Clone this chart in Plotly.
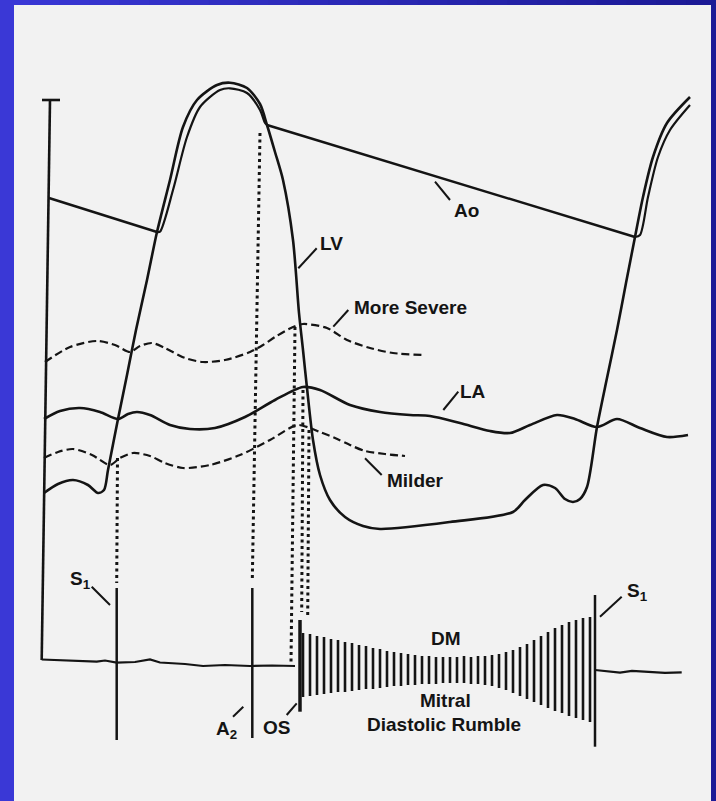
import plotly.graph_objects as go

# ---------------- data (in drawing units) ----------------
# Left ventricular pressure (single trace, through one cycle)
lv_x = [44, 58, 73, 88, 98, 104, 108, 118, 127, 136, 147, 157, 170, 183, 197, 217, 230, 247, 260, 267,
        275, 283, 293, 299, 303, 307, 313, 320, 330, 345, 363, 380, 450, 513, 525, 543, 555, 565, 573,
        580, 587, 597, 607, 617, 626, 635, 643, 653, 667, 690]
lv_y = [493, 484, 480, 485, 493, 490, 470, 419, 375, 330, 280, 232, 180, 127, 100, 85, 82.7, 88, 104, 125,
        152, 180, 240, 313, 350, 388, 440, 475, 500, 517, 526, 529, 522, 512, 500, 485, 488, 499, 502,
        499, 487, 427, 378, 330, 283, 237, 197, 157, 123, 97]

# Aortic pressure: diastolic runoff segments and ejection overlay (inner line)
ao_left_x = [49, 157]
ao_left_y = [198, 232]
ao_inner_x = [157, 160, 173, 187, 200, 220, 230, 247, 260, 265, 267]
ao_inner_y = [232, 231.7, 190, 137, 107, 90, 88.3, 93, 110, 123, 125]
ao_run_x = [267, 635]
ao_run_y = [125, 237]
ao_right_x = [635, 640, 648, 658, 670, 690]
ao_right_y = [237, 235, 197, 157, 130, 105]

# Left atrial pressure
la_x = [44, 60, 80, 100, 118, 128, 137, 150, 170, 190, 215, 245, 275, 303, 320, 350, 380, 410, 430,
        460, 490, 510, 530, 557, 575, 597, 617, 640, 667, 688]
la_y = [419, 411, 408, 412, 419, 414, 412, 415, 425, 429, 428, 417, 400, 387, 390, 405, 412, 415, 416,
        423, 431, 433, 425, 415, 419, 427, 419, 428, 437, 435]

# LA pressure, more severe stenosis (dashed)
sev_x = [45, 70, 97, 115, 130, 140, 152, 165, 185, 203, 225, 250, 263, 275, 293, 303, 327, 347, 370, 393, 423]
sev_y = [362, 347, 341, 345, 352, 346, 343, 348, 358, 362, 360, 352, 345, 337, 327, 324, 328, 340, 348, 353, 355]

# LA pressure, milder stenosis (dashed)
mild_x = [44, 58, 73, 92, 110, 120, 133, 150, 165, 183, 210, 240, 270, 297, 310, 320, 335, 350, 365, 385, 405]
mild_y = [458, 452, 449, 455, 465, 458, 453, 456, 463, 468, 465, 455, 440, 425, 428, 432, 438, 445, 451, 454, 456]

# Axes of the tracing
axis_x = [50, 41.7]
axis_y = [100, 660]
tbar_x = [42, 60]
tbar_y = [100, 100]

# Phonocardiogram baseline (left and right of the murmur)
base_l_x = [41.7, 70, 96.7, 105, 116.7, 135, 150, 160, 185, 203, 225, 250, 272, 295]
base_l_y = [659.5, 661, 661.7, 660.5, 662.7, 662, 659.5, 662.5, 664, 666, 665, 666, 665.5, 666]
base_r_x = [595, 608, 620, 632, 650, 665, 681.7]
base_r_y = [670, 671.5, 672.7, 670.8, 671.7, 672.8, 672.3]

# Heart sounds (solid markers): x, top, bottom
snd_x = [116.7, 252.3, 300, 595]
snd_top = [588, 588, 620, 595]
snd_bot = [740, 738, 711.7, 746.7]
snd_w = [2.5, 2.5, 3.5, 2.5]

# Dotted timing lines: x0, y0, x1, y1
dot_x0 = [117.5, 260, 295, 303, 309]
dot_y0 = [458, 133, 327, 390, 430]
dot_x1 = [116.7, 252.3, 291, 301.7, 307.7]
dot_y1 = [583, 580, 663, 612, 615]

# Diastolic murmur (rumble) vibrations
murmur_x = [303, 310, 317, 324, 331, 338, 345, 352, 359, 366, 373, 380, 387, 394, 401, 408, 415, 422,
            429, 436, 443, 450, 457, 464, 471, 478, 485, 492, 499, 506, 513, 520, 527, 534, 541, 548,
            555, 562, 569, 576, 583, 590]
murmur_top = [633, 634, 636, 637, 639, 640, 642, 643, 645, 646, 648, 649, 651, 652, 653, 654, 655, 656,
              656, 657, 657, 657, 657, 656, 657, 656, 656, 655, 654, 652, 650, 647, 644, 640, 636, 632,
              628, 625, 622, 620, 618, 617]
murmur_bot = [697, 696, 695, 694, 693, 692, 692, 691, 690, 689, 689, 688, 687, 686, 686, 685, 685, 684,
              684, 684, 683, 683, 683, 683, 684, 684, 685, 686, 688, 690, 693, 696, 699, 702, 705, 708,
              711, 713, 716, 718, 720, 722]

# Labels: text, x, y, leader line (x0, y0, x1, y1)
lab_text = ["Ao", "LV", "More Severe", "LA", "Milder", "DM", "Mitral", "Diastolic Rumble",
            "S<sub>1</sub>", "A<sub>2</sub>", "OS", "S<sub>1</sub>"]
lab_x = [466, 331.7, 351.7, 473, 415, 446, 445, 444, 80, 226, 276.7, 637]
lab_y = [210, 243.7, 307, 391.7, 480, 638, 700.7, 724, 580, 730, 727.5, 592]
lab_anchor = ["center", "center", "left", "center", "center", "center", "center", "center",
              "center", "center", "center", "center"]
lead_x0 = [435, 298.3, 333.3, 443.3, 365, 91.7, 233, 286.7, 600]
lead_y0 = [181.7, 268.3, 326.7, 410, 458.3, 586.7, 716.7, 715, 616.7]
lead_x1 = [450, 316.7, 348.3, 458.3, 381.7, 110, 243.3, 296.7, 621.7]
lead_y1 = [200, 248.3, 310, 391.7, 475, 605, 706.7, 703.3, 596.7]

INK = "#141414"

fig = go.Figure()


def add_line(xs, ys, width=2.6, dash="solid", shape="spline"):
    fig.add_trace(go.Scatter(x=xs, y=ys, mode="lines", hoverinfo="skip",
                             line=dict(color=INK, width=width, dash=dash, shape=shape,
                                       smoothing=0.8)))


def segments(x0, y0, x1, y1):
    xs, ys = [], []
    for a, b, c, d in zip(x0, y0, x1, y1):
        xs += [a, c, None]
        ys += [b, d, None]
    return xs, ys


# axes of tracing
add_line(axis_x, axis_y, 2.6, shape="linear")
add_line(tbar_x, tbar_y, 2.6, shape="linear")
# pressure curves
add_line(ao_left_x, ao_left_y, 2.4, shape="linear")
add_line(ao_run_x, ao_run_y, 2.4, shape="linear")
add_line(ao_inner_x, ao_inner_y, 2.2)
add_line(ao_right_x, ao_right_y, 2.2)
add_line(lv_x, lv_y, 2.6)
add_line(la_x, la_y, 2.6)
add_line(sev_x, sev_y, 2.2, dash="8px,4px")
add_line(mild_x, mild_y, 2.2, dash="8px,4px")
# dotted timing lines
dx, dy = segments(dot_x0, dot_y0, dot_x1, dot_y1)
add_line(dx, dy, 3.0, dash="3px,3.5px", shape="linear")
# phono baseline
add_line(base_l_x, base_l_y, 2.2, shape="linear")
add_line(base_r_x, base_r_y, 2.2, shape="linear")
# heart sounds
for x, t, b, w in zip(snd_x, snd_top, snd_bot, snd_w):
    add_line([x, x], [t, b], w, shape="linear")
# murmur
mx, my = segments(murmur_x, murmur_top, murmur_x, murmur_bot)
add_line(mx, my, 2.6, shape="linear")
# label leaders
lx, ly = segments(lead_x0, lead_y0, lead_x1, lead_y1)
add_line(lx, ly, 2.0, shape="linear")

for t, x, y, a in zip(lab_text, lab_x, lab_y, lab_anchor):
    fig.add_annotation(x=x, y=y, text=t, showarrow=False, xanchor=a, yanchor="middle",
                       font=dict(family="Liberation Sans, Arial, sans-serif", size=19,
                                 color=INK, weight="bold"))

# background: blue gradient frame and light panel
shapes = []
n = 24
for i in range(n):
    f = i / (n - 1)
    r = int(58 + (28 - 58) * f)
    g = int(56 + (26 - 56) * f)
    bl = int(214 + (150 - 214) * f)
    shapes.append(dict(type="rect", xref="x", yref="y", x0=716 * i / n, x1=716 * (i + 1) / n + 1,
                       y0=0, y1=801, fillcolor=f"rgb({r},{g},{bl})", line=dict(width=0),
                       layer="below"))
shapes.append(dict(type="rect", xref="x", yref="y", x0=14, x1=711, y0=5, y1=801,
                   fillcolor="#f2f2f2", line=dict(width=0), layer="below"))

fig.update_layout(
    width=716, height=801, margin=dict(l=0, r=0, t=0, b=0),
    paper_bgcolor="#2b2ab8", plot_bgcolor="rgba(0,0,0,0)",
    showlegend=False, shapes=shapes,
    xaxis=dict(range=[0, 716], visible=False, fixedrange=True),
    yaxis=dict(range=[801, 0], visible=False, fixedrange=True),
)

fig.write_html("out.html", config={"displayModeBar": False},
               post_script="document.body.style.margin='0';document.body.style.overflow='hidden';")
